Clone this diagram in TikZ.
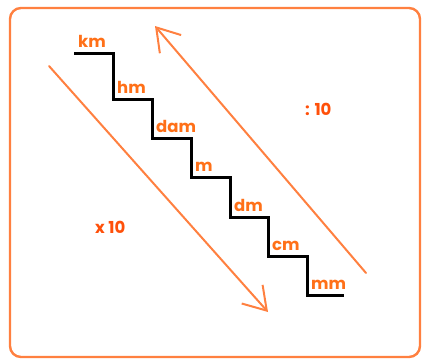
\documentclass[tikz,border=0pt]{standalone}
\usepackage{fontspec}
\setmainfont{Poppins}
\usepackage{tikz}
\usetikzlibrary{arrows.meta}
\definecolor{lineO}{RGB}{255,128,64}
\definecolor{unitO}{RGB}{255,112,24}
\definecolor{factO}{RGB}{255,80,10}

\begin{document}
\begin{tikzpicture}[x=1pt,y=-1pt,
    unit/.style={anchor=base west,inner sep=0pt,text=unitO,font=\fontsize{16.5}{18}\selectfont\bfseries},
    fact/.style={anchor=base west,inner sep=0pt,text=factO,font=\fontsize{16.5}{18}\selectfont\bfseries},
    stair/.style={line width=3pt,line join=miter},
    conv/.style={lineO,line width=2pt,line cap=round,
      -{Straight Barb[length=22pt,width=28pt,line width=2pt]}}]
  \useasboundingbox (0,0) rectangle (422,360);
  % frame
  \draw[lineO,line width=2.4pt,rounded corners=11pt] (10,8) rectangle (420,357);
  % staircase
  \draw[stair] (74,53) -| (113,99) -| (152,138) -| (191,177)
    -| (230,217) -| (268,256) -| (307,295) -- (344,295);
  \foreach \u/\x/\y in {km/74/53, hm/113/99, dam/152/138, m/191/177,
                        dm/230/217, cm/268/256, mm/307/295}
    \node[unit] (\u) at (\x+4,\y-6) {\u};
  % arrows
  \coordinate (mulA) at (49,66);
  \coordinate (mulB) at (268,312);
  \coordinate (divA) at (366,273);
  \coordinate (divB) at (155,26);
  \draw[conv] (mulA) -- (mulB);
  \draw[conv] (divA) -- (divB);
  \node[fact] (mul) at (95,233) {x 10};
  \node[fact] (div) at (305,115) {: 10};
\end{tikzpicture}
\end{document}
